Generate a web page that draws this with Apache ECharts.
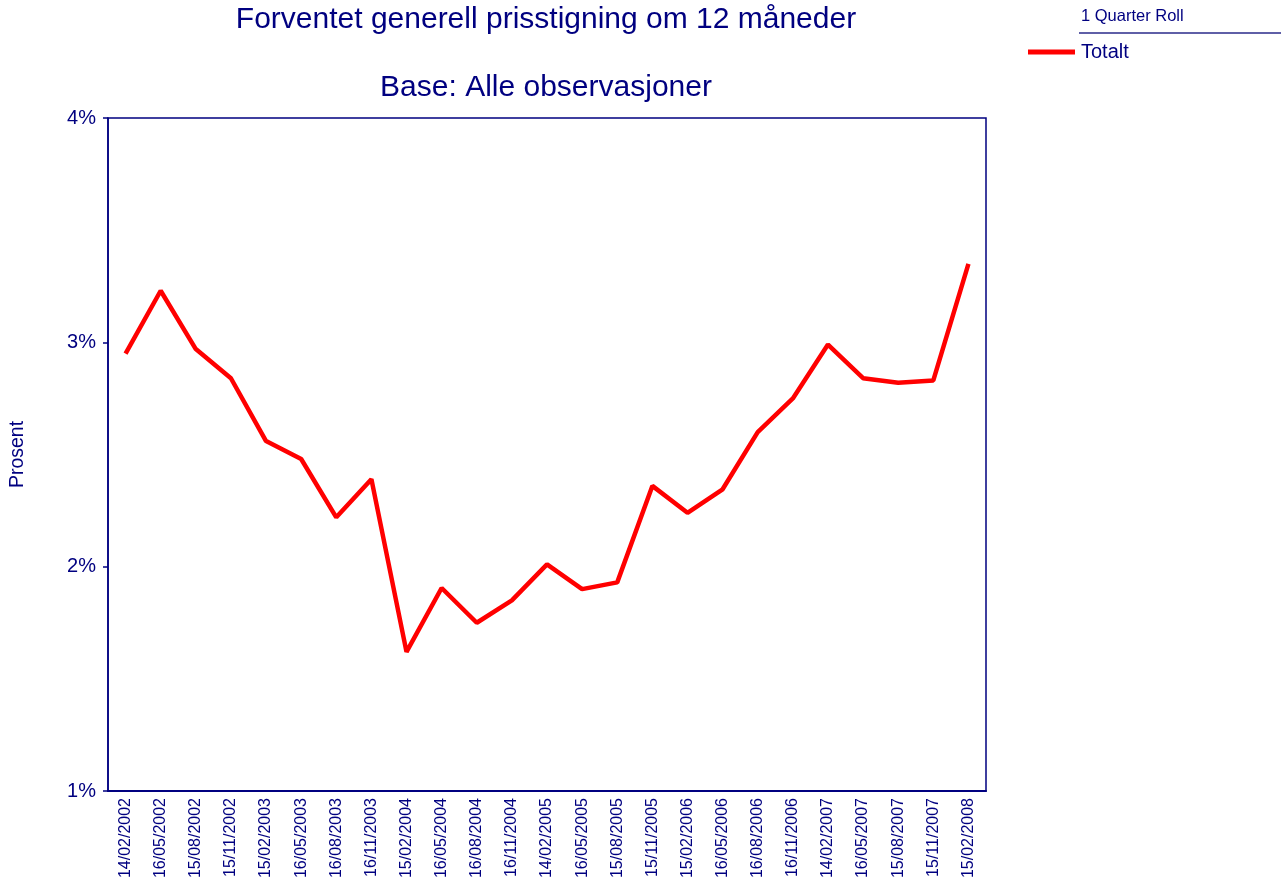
<!DOCTYPE html>
<html>
<head>
<meta charset="utf-8">
<script src="https://cdn.jsdelivr.net/npm/echarts@6/dist/echarts.min.js"></script>
<style>
  html, body { margin: 0; padding: 0; background: #fff; }
  #chart { width: 1281px; height: 882px; }
</style>
</head>
<body>
<div id="chart"></div>
<script>
// observation dates (x axis)
var dates = [
  '14/02/2002', '16/05/2002', '15/08/2002', '15/11/2002',
  '15/02/2003', '16/05/2003', '16/08/2003', '16/11/2003',
  '15/02/2004', '16/05/2004', '16/08/2004', '16/11/2004',
  '14/02/2005', '16/05/2005', '15/08/2005', '15/11/2005',
  '15/02/2006', '16/05/2006', '16/08/2006', '16/11/2006',
  '14/02/2007', '16/05/2007', '15/08/2007', '15/11/2007',
  '15/02/2008'
]
// Totalt, percent
var totalt = [
  2.95, 3.23, 2.97, 2.84,
  2.56, 2.48, 2.22, 2.39,
  1.62, 1.905, 1.75, 1.85,
  2.01, 1.90, 1.93, 2.36,
  2.24, 2.345, 2.60, 2.75,
  2.99, 2.84, 2.82, 2.83,
  3.35
]
var yTicks = { min: 1, max: 4, step: 1 }

var navy = '#000080'
var font = 'Liberation Sans, Arial, sans-serif'

var chart = echarts.init(document.getElementById('chart'))
var option = {
  backgroundColor: '#fff',
  animation: false,
  title: [
    {
      text: 'Forventet generell prisstigning om 12 måneder',
      left: 541,
      top: 0,
      textAlign: 'center',
      textStyle: { color: navy, fontSize: 30, fontWeight: 'normal', fontFamily: font }
    },
    {
      text: 'Base: Alle observasjoner',
      left: 541,
      top: 68,
      textAlign: 'center',
      textStyle: { color: navy, fontSize: 30, fontWeight: 'normal', fontFamily: font }
    },
    {
      text: '1 Quarter Roll',
      left: 1076,
      top: 3,
      textStyle: { color: navy, fontSize: 16.5, fontWeight: 'normal', fontFamily: font }
    }
  ],
  graphic: [
    {
      type: 'line',
      shape: { x1: 1079, y1: 33, x2: 1281, y2: 33 },
      style: { stroke: '#2a2a8a', lineWidth: 1.5 }
    }
  ],
  legend: {
    left: 1023,
    top: 37,
    icon: 'rect',
    itemWidth: 47,
    itemHeight: 5,
    itemGap: 4,
    textStyle: { color: navy, fontSize: 20, fontFamily: font, padding: [0, 0, 0, 1] },
    data: ['Totalt']
  },
  grid: {
    left: 107,
    right: 295,
    top: 118,
    bottom: 91,
    show: true,
    borderColor: navy,
    borderWidth: 1.5,
    backgroundColor: '#fff'
  },
  xAxis: {
    type: 'category',
    data: dates,
    boundaryGap: true,
    axisLine: { lineStyle: { color: navy, width: 2 } },
    axisTick: { alignWithLabel: true, length: 5, lineStyle: { color: navy, width: 1.5 } },
    axisLabel: {
      rotate: 90,
      interval: 0,
      color: navy,
      fontSize: 16,
      fontFamily: font,
      margin: 7
    },
    splitLine: { show: false }
  },
  yAxis: {
    type: 'value',
    min: yTicks.min,
    max: yTicks.max,
    interval: yTicks.step,
    name: 'Prosent',
    nameLocation: 'middle',
    nameGap: 80,
    nameTextStyle: { color: navy, fontSize: 19.5, fontFamily: font },
    axisLine: { show: true, lineStyle: { color: navy, width: 1.5 } },
    axisTick: { show: true, length: 5, lineStyle: { color: navy, width: 1.5 } },
    axisLabel: {
      color: navy,
      fontSize: 20,
      fontFamily: font,
      margin: 12,
      formatter: '{value}%'
    },
    splitLine: { show: false }
  },
  series: [
    {
      name: 'Totalt',
      type: 'line',
      data: totalt,
      symbol: 'none',
      color: '#ff0000',
      lineStyle: { color: '#ff0000', width: 4.5 }
    }
  ]
}
chart.setOption(option)
</script>
</body>
</html>
